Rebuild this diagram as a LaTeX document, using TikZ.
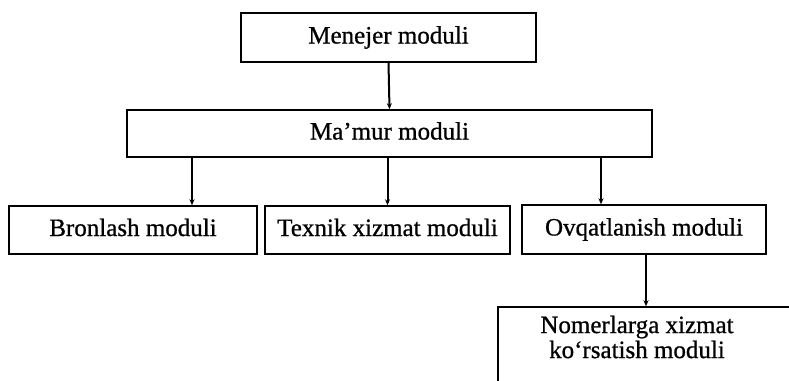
\documentclass[tikz,border=0pt]{standalone}
\usepackage{fontspec}
\setmainfont{Liberation Serif}
\newfontfamily\heavyserif{Liberation Serif}[FakeBold=0.8]
\usetikzlibrary{arrows.meta}
\tikzset{
  modbox/.style={draw=black, line width=1.5pt, inner sep=0pt, text height=17pt, text depth=5pt, font=\heavyserif\fontsize{25}{26}\selectfont},
  conn/.style={line width=2pt, -{Stealth[length=6pt,width=5pt]}},
}
\begin{document}
\begin{tikzpicture}[x=1pt,y=-1pt]
\useasboundingbox (0,0) rectangle (789,380);
\clip (0,0) rectangle (789,380);
\node[modbox, minimum width=295pt, minimum height=49pt] (men) at (388.5,37.5) {Menejer moduli};
\node[modbox, minimum width=525pt, minimum height=47pt] (mam) at (389.5,133.5) {Ma’mur moduli};
\node[modbox, minimum width=248pt, minimum height=48pt] (bro) at (133,230) {Bronlash moduli};
\node[modbox, minimum width=245pt, minimum height=48pt] (tex) at (387.5,230) {Texnik xizmat moduli};
\node[modbox, minimum width=244pt, minimum height=49pt] (ovq) at (644,229.5) {Ovqatlanish moduli};
\node[draw=black, line width=1.5pt, minimum width=312pt, minimum height=110pt] (nom) at (654,362) {};
\node[font=\heavyserif\fontsize{25}{25}\selectfont, align=center, inner sep=0pt] (nomt) at (637,337) {Nomerlarga xizmat\\ko‘rsatish moduli};
\draw[conn] (men.south) -- (mam.north);
\draw[conn] (192,0 |- mam.south) -- (192,0 |- bro.north);
\draw[conn] (tex.north |- mam.south) -- (tex.north);
\draw[conn] (601,0 |- mam.south) -- (601,0 |- ovq.north);
\draw[conn] (646,0 |- ovq.south) -- (646,0 |- nom.north);
\end{tikzpicture}
\end{document}
